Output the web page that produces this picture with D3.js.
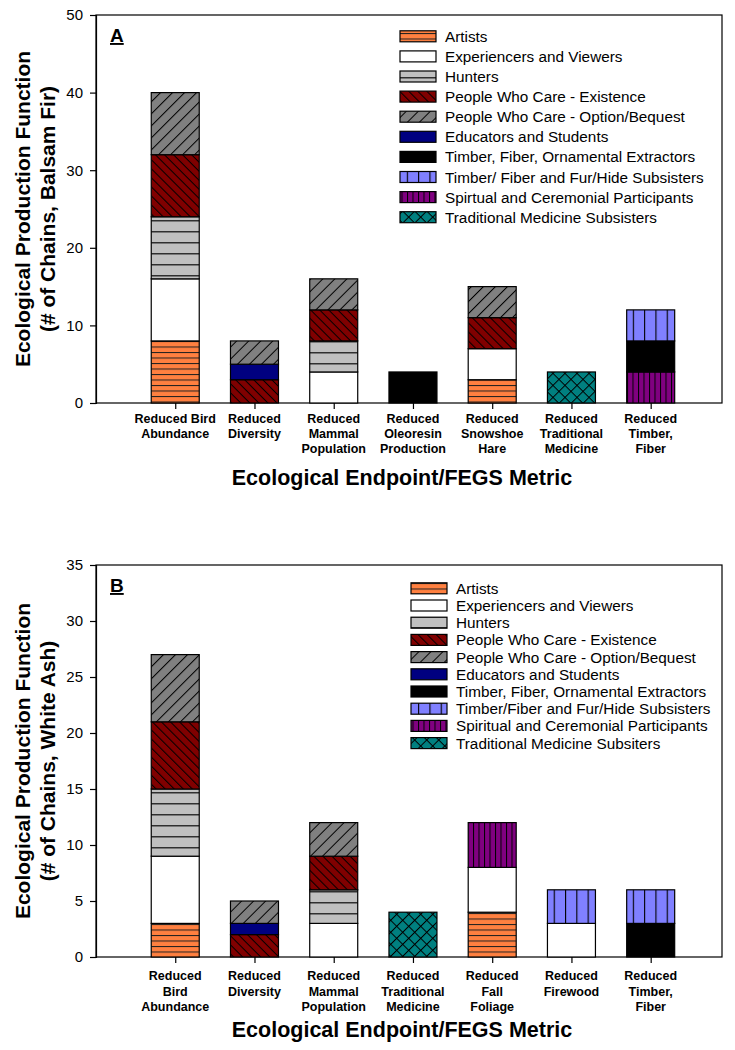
<!DOCTYPE html>
<html><head><meta charset="utf-8">
<script src="https://cdn.jsdelivr.net/npm/d3@7"></script>
<style>body{margin:0;background:#fff} svg{display:block}</style>
</head><body><svg id="chart" width="735" height="1050"></svg>
<script>
// ---------- DATA ----------
const stackOrder = ["artists","experiencers","hunters","existence","educators","option","spiritual","extractors","subsisters","medicine"];
const legendOrder = ["artists","experiencers","hunters","existence","option","educators","extractors","subsisters","spiritual","medicine"];

const legendLabelsA = ["Artists","Experiencers and Viewers","Hunters","People Who Care - Existence","People Who Care - Option/Bequest","Educators and Students","Timber, Fiber, Ornamental Extractors","Timber/ Fiber and Fur/Hide Subsisters","Spirtual and Ceremonial Participants","Traditional Medicine Subsisters"];
const legendLabelsB = ["Artists","Experiencers and Viewers","Hunters","People Who Care - Existence","People Who Care - Option/Bequest","Educators and Students","Timber, Fiber, Ornamental Extractors","Timber/Fiber and Fur/Hide Subsisters","Spiritual and Ceremonial Participants","Traditional Medicine Subsiters"];

const categoriesA = ["Reduced Bird|Abundance","Reduced|Diversity","Reduced|Mammal|Population","Reduced|Oleoresin|Production","Reduced|Snowshoe|Hare","Reduced|Traditional|Medicine","Reduced|Timber,|Fiber"];
const categoriesB = ["Reduced|Bird|Abundance","Reduced|Diversity","Reduced|Mammal|Population","Reduced|Traditional|Medicine","Reduced|Fall|Foliage","Reduced|Firewood","Reduced|Timber,|Fiber"];

// Panel A (Balsam Fir)
const artistsA      = [8,0,0,0,3,0,0];
const experiencersA = [8,0,4,0,4,0,0];
const huntersA      = [8,0,4,0,0,0,0];
const existenceA    = [8,3,4,0,4,0,0];
const educatorsA    = [0,2,0,0,0,0,0];
const optionA       = [8,3,4,0,4,0,0];
const spiritualA    = [0,0,0,0,0,0,4];
const extractorsA   = [0,0,0,4,0,0,4];
const subsistersA   = [0,0,0,0,0,0,4];
const medicineA     = [0,0,0,0,0,4,0];

// Panel B (White Ash)
const artistsB      = [3,0,0,0,4,0,0];
const experiencersB = [6,0,3,0,4,3,0];
const huntersB      = [6,0,3,0,0,0,0];
const existenceB    = [6,2,3,0,0,0,0];
const educatorsB    = [0,1,0,0,0,0,0];
const optionB       = [6,2,3,0,0,0,0];
const spiritualB    = [0,0,0,0,4,0,0];
const extractorsB   = [0,0,0,0,0,0,3];
const subsistersB   = [0,0,0,0,0,3,3];
const medicineB     = [0,0,0,4,0,0,0];

const ticksA = [0,10,20,30,40,50];
const ticksB = [0,5,10,15,20,25,30,35];

const yTitleA = ["Ecological Production Function","(# of Chains, Balsam Fir)"];
const yTitleB = ["Ecological Production Function","(# of Chains, White Ash)"];
const xTitle = "Ecological Endpoint/FEGS Metric";

// ---------- STYLE ----------
const FONT = "'Liberation Sans', Arial, Helvetica, sans-serif";
const svg = d3.select("#chart");
const defs = svg.append("defs");

function makePattern(id, w, h, bg, lines, rot, lineColor, lw) {
  const p = defs.append("pattern").attr("id", id)
    .attr("patternUnits","userSpaceOnUse").attr("width", w).attr("height", h);
  if (rot) p.attr("patternTransform", `rotate(${rot})`);
  p.append("rect").attr("width", w).attr("height", h).attr("fill", bg);
  lines.forEach(l => {
    p.append("line").attr("x1", l[0]).attr("y1", l[1]).attr("x2", l[2]).attr("y2", l[3])
      .attr("stroke", lineColor || "#000").attr("stroke-width", lw || 1);
  });
}
makePattern("p-artists", 10, 5.5, "#FF8040", [[0,0.5,10,0.5]], 0, "#202020", 1);
makePattern("p-experiencers", 10, 10, "#FFFFFF", [], 0);
makePattern("p-hunters", 10, 11, "#C0C0C0", [[0,0.75,10,0.75]], 0, "#303030", 1.5);
makePattern("p-existence", 6.4, 6.4, "#800000", [[0.5,0,0.5,6.4]], -45, "#000", 1);
makePattern("p-option", 8.5, 8.5, "#808080", [[0.5,0,0.5,8.5]], 45, "#000", 1);
makePattern("p-educators", 10, 10, "#000080", [], 0);
makePattern("p-extractors", 10, 10, "#000000", [], 0);
makePattern("p-subsisters", 11.3, 10, "#8080FF", [[0.5,0,0.5,10]], 0, "#000", 1.2);
makePattern("p-spiritual", 5.5, 10, "#800080", [[0.5,0,0.5,10]], 0, "#000", 1);
makePattern("p-medicine", 8.5, 8.5, "#008080", [[0.5,0,0.5,8.5],[0,0.5,8.5,0.5]], 45, "#000", 1);

function drawPanel(cfg) {
  const {left, right, top, bottom, yMax, ticks, categories, values, legendLabels, legend, label, yTitle, xTitleY, catY, catLH} = cfg;
  const g = svg.append("g");
  const x = d3.scaleLinear().domain([0, 7.9]).range([left, right]);
  const y = d3.scaleLinear().domain([0, yMax]).range([bottom, top]);
  const barW = 48;

  // stacked data
  const rows = categories.map((c, i) => {
    const r = {cat: c, idx: i};
    stackOrder.forEach(k => r[k] = values[k][i]);
    return r;
  });
  const series = d3.stack().keys(stackOrder)(rows);

  // frame
  g.append("rect").attr("x", left).attr("y", top).attr("width", right-left).attr("height", bottom-top)
    .attr("fill","none").attr("stroke","#000").attr("stroke-width",1.2);

  // bars
  series.forEach(s => {
    g.append("g").selectAll("rect").data(s.filter(d => d[1] - d[0] > 0)).join("rect")
      .attr("x", d => x(d.data.idx + 1) - barW/2)
      .attr("width", barW)
      .attr("y", d => y(d[1]))
      .attr("height", d => y(d[0]) - y(d[1]))
      .attr("fill", `url(#p-${s.key})`)
      .attr("stroke", "#000").attr("stroke-width", 1.2);
  });

  // y axis
  const yAxis = g.append("g").attr("transform", `translate(${left},0)`)
    .call(d3.axisLeft(y).tickValues(ticks).tickSize(6).tickPadding(7).tickFormat(d3.format("d")));
  yAxis.select(".domain").attr("stroke","#000").attr("stroke-width",1.2);
  yAxis.selectAll(".tick line").attr("stroke","#000").attr("stroke-width",1.2);
  yAxis.selectAll("text").attr("font-family", FONT).attr("font-size", "15px").attr("fill","#000");

  // x axis
  const xAxis = g.append("g").attr("transform", `translate(0,${bottom})`)
    .call(d3.axisBottom(x).tickValues(d3.range(1, categories.length + 1)).tickSize(6).tickFormat(""));
  xAxis.select(".domain").remove();
  xAxis.selectAll(".tick line").attr("stroke","#000").attr("stroke-width",1.2);

  // category labels
  categories.forEach((c, i) => {
    const t = g.append("text").attr("font-family", FONT).attr("font-weight","bold")
      .attr("font-size","12.5px").attr("text-anchor","middle").attr("fill","#000");
    c.split("|").forEach((ln, j) => {
      t.append("tspan").attr("x", x(i + 1)).attr("y", catY + j*catLH).text(ln);
    });
  });

  // x title
  g.append("text").attr("x", 402).attr("y", xTitleY).attr("text-anchor","middle")
    .attr("font-family", FONT).attr("font-weight","bold").attr("font-size","21.5px").text(xTitle);

  // y title
  const yc = (top + bottom)/2;
  yTitle.forEach((ln, j) => {
    g.append("text").attr("transform", `translate(${30 + j*25},${yc}) rotate(-90)`)
      .attr("text-anchor","middle").attr("font-family", FONT).attr("font-weight","bold")
      .attr("font-size","21px").text(ln);
  });

  // panel label
  g.append("text").attr("x", 110).attr("y", top + 27).attr("font-family", FONT)
    .attr("font-weight","bold").attr("font-size","19px").attr("text-decoration","underline").text(label);

  // legend
  const lg = g.append("g");
  legendOrder.forEach((k, i) => {
    const cy = legend.y0 + i*legend.dy;
    lg.append("rect").attr("x", legend.x).attr("y", cy - 5.5).attr("width", 36).attr("height", 11)
      .attr("fill", `url(#p-${k})`).attr("stroke","#000").attr("stroke-width",1.2);
    lg.append("text").attr("x", legend.x + 45).attr("y", cy + 5.5)
      .attr("font-family", FONT).attr("font-size","15.3px").attr("fill","#000").text(legendLabels[i]);
  });
}

drawPanel({
  left: 96, right: 722, top: 15, bottom: 403, yMax: 50, ticks: ticksA,
  categories: categoriesA,
  values: {artists: artistsA, experiencers: experiencersA, hunters: huntersA, existence: existenceA,
           educators: educatorsA, option: optionA, spiritual: spiritualA, extractors: extractorsA,
           subsisters: subsistersA, medicine: medicineA},
  legendLabels: legendLabelsA, legend: {x: 400, y0: 36.3, dy: 20.1},
  label: "A", yTitle: yTitleA, xTitleY: 485, catY: 423, catLH: 15
});
drawPanel({
  left: 96, right: 722, top: 565, bottom: 957, yMax: 35, ticks: ticksB,
  categories: categoriesB,
  values: {artists: artistsB, experiencers: experiencersB, hunters: huntersB, existence: existenceB,
           educators: educatorsB, option: optionB, spiritual: spiritualB, extractors: extractorsB,
           subsisters: subsistersB, medicine: medicineB},
  legendLabels: legendLabelsB, legend: {x: 411, y0: 588.3, dy: 17.2},
  label: "B", yTitle: yTitleB, xTitleY: 1037, catY: 980, catLH: 15.5
});
</script>
</body></html>
